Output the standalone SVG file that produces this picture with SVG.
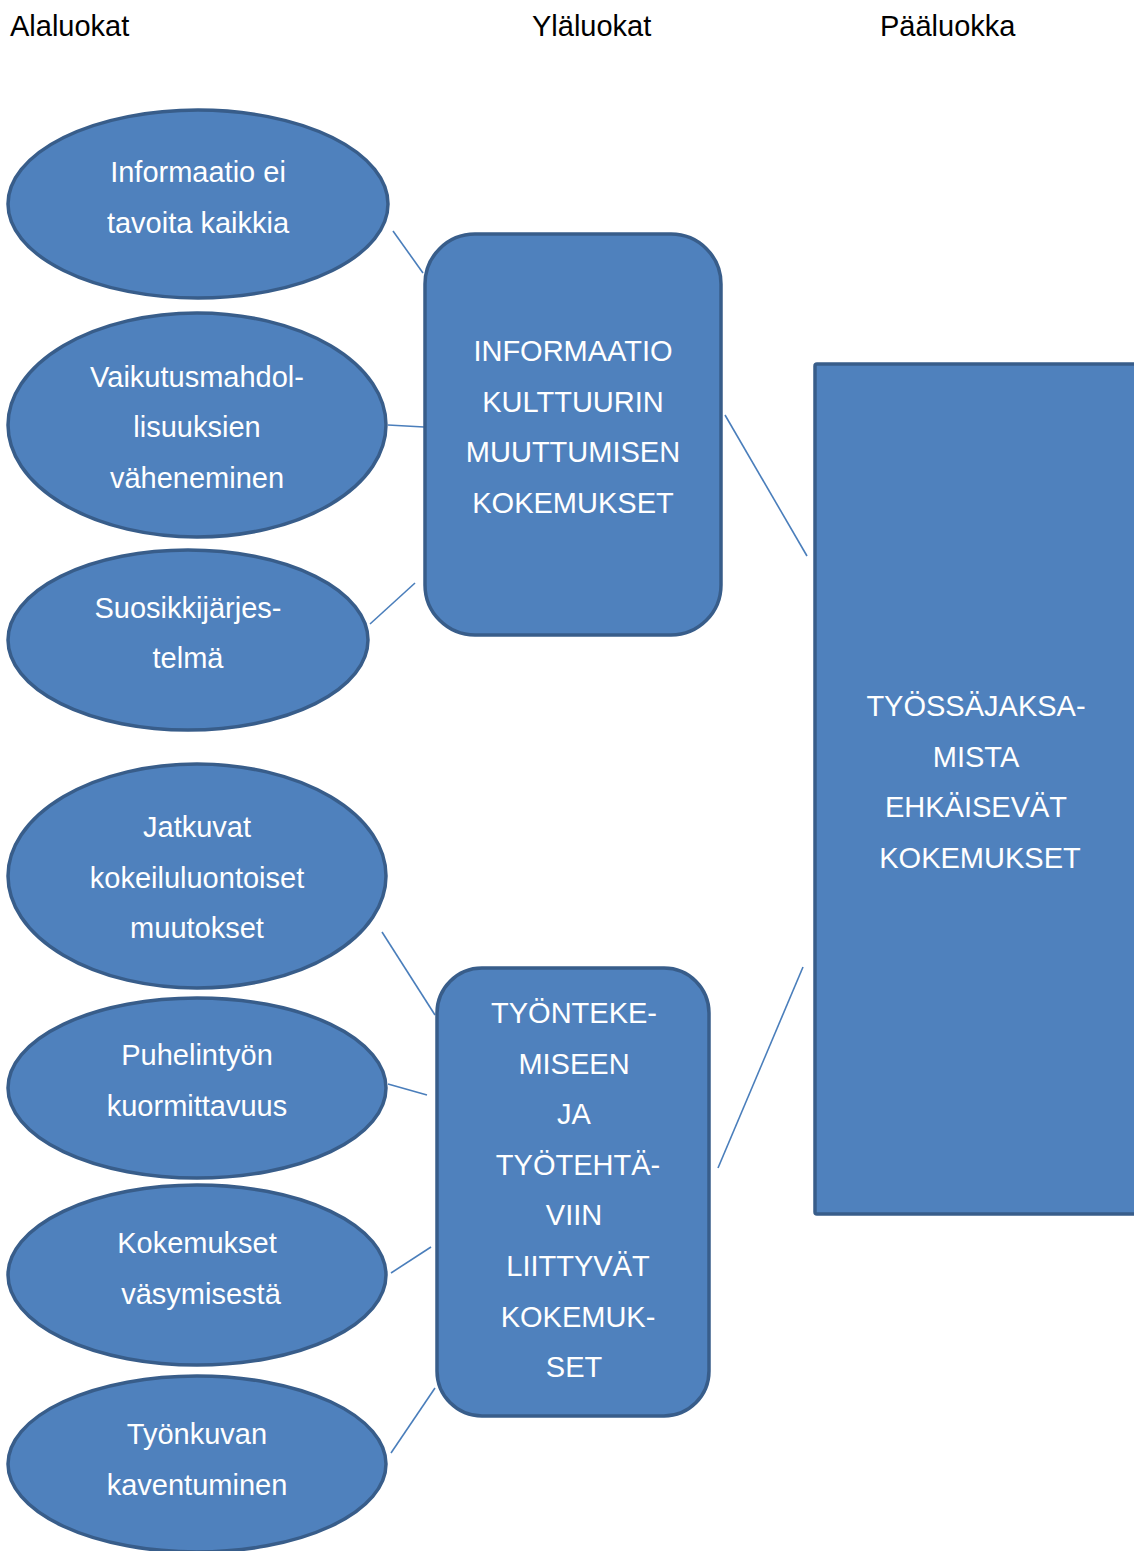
<svg xmlns="http://www.w3.org/2000/svg" width="1134" height="1551" viewBox="0 0 1134 1551">
<style>
.n{fill:#4F81BD;stroke:#385D8A;stroke-width:3.5}
.t{font-family:"Liberation Sans",Arial,sans-serif;font-size:29px;fill:#FFFFFF;text-anchor:middle}
.h{font-family:"Liberation Sans",Arial,sans-serif;font-size:29px;fill:#000000}
.c{stroke:#4A7EBB;stroke-width:1.6;fill:none}
</style>
<rect width="1134" height="1551" fill="#FFFFFF"/>
<g id="headers">
<text class="h" x="10" y="36">Alaluokat</text>
<text class="h" x="532" y="36">Yläluokat</text>
<text class="h" x="880" y="36">Pääluokka</text>
</g>
<g id="connectors">
<line class="c" x1="393" y1="231" x2="423" y2="273"/>
<line class="c" x1="388" y1="425" x2="424" y2="427"/>
<line class="c" x1="370" y1="624" x2="415" y2="583"/>
<line class="c" x1="725" y1="415" x2="807" y2="556"/>
<line class="c" x1="382" y1="932" x2="435" y2="1015"/>
<line class="c" x1="388" y1="1084" x2="427" y2="1095"/>
<line class="c" x1="391" y1="1273" x2="431" y2="1247"/>
<line class="c" x1="391" y1="1453" x2="435" y2="1388"/>
<line class="c" x1="718" y1="1168" x2="803" y2="967"/>
</g>
<g id="e1">
<ellipse class="n" cx="198" cy="204" rx="190" ry="94"/>
<text class="t" x="198" y="182">Informaatio ei</text>
<text class="t" x="198" y="233">tavoita kaikkia</text>
</g>
<g id="e2">
<ellipse class="n" cx="197" cy="425" rx="189" ry="112"/>
<text class="t" x="197" y="387">Vaikutusmahdol-</text>
<text class="t" x="197" y="437">lisuuksien</text>
<text class="t" x="197" y="488">väheneminen</text>
</g>
<g id="e3">
<ellipse class="n" cx="188" cy="640" rx="180" ry="90"/>
<text class="t" x="188" y="618">Suosikkijärjes-</text>
<text class="t" x="188" y="668">telmä</text>
</g>
<g id="e4">
<ellipse class="n" cx="197" cy="876" rx="189" ry="112"/>
<text class="t" x="197" y="837">Jatkuvat</text>
<text class="t" x="197" y="888">kokeiluluontoiset</text>
<text class="t" x="197" y="938">muutokset</text>
</g>
<g id="e5">
<ellipse class="n" cx="197" cy="1088" rx="189" ry="90"/>
<text class="t" x="197" y="1065">Puhelintyön</text>
<text class="t" x="197" y="1116">kuormittavuus</text>
</g>
<g id="e6">
<ellipse class="n" cx="197" cy="1275" rx="189" ry="90"/>
<text class="t" x="197" y="1253">Kokemukset</text>
<text class="t" x="201" y="1304">väsymisestä</text>
</g>
<g id="e7">
<ellipse class="n" cx="197" cy="1464" rx="189" ry="88"/>
<text class="t" x="197" y="1444">Työnkuvan</text>
<text class="t" x="197" y="1495">kaventuminen</text>
</g>
<g id="r1">
<rect class="n" x="425" y="234" width="296" height="401" rx="50" ry="50"/>
<text class="t" x="573" y="361">INFORMAATIO</text>
<text class="t" x="573" y="412">KULTTUURIN</text>
<text class="t" x="573" y="462">MUUTTUMISEN</text>
<text class="t" x="573" y="513">KOKEMUKSET</text>
</g>
<g id="r2">
<rect class="n" x="437" y="968" width="272" height="448" rx="45" ry="45"/>
<text class="t" x="574" y="1023">TYÖNTEKE-</text>
<text class="t" x="574" y="1074">MISEEN</text>
<text class="t" x="574" y="1124">JA</text>
<text class="t" x="578" y="1175">TYÖTEHTÄ-</text>
<text class="t" x="574" y="1225">VIIN</text>
<text class="t" x="578" y="1276">LIITTYVÄT</text>
<text class="t" x="578" y="1327">KOKEMUK-</text>
<text class="t" x="574" y="1377">SET</text>
</g>
<g id="r3">
<rect class="n" x="815" y="364" width="340" height="850" rx="2" ry="2"/>
<text class="t" x="976" y="716">TYÖSSÄJAKSA-</text>
<text class="t" x="976" y="767">MISTA</text>
<text class="t" x="976" y="817">EHKÄISEVÄT</text>
<text class="t" x="980" y="868">KOKEMUKSET</text>
</g>
</svg>
